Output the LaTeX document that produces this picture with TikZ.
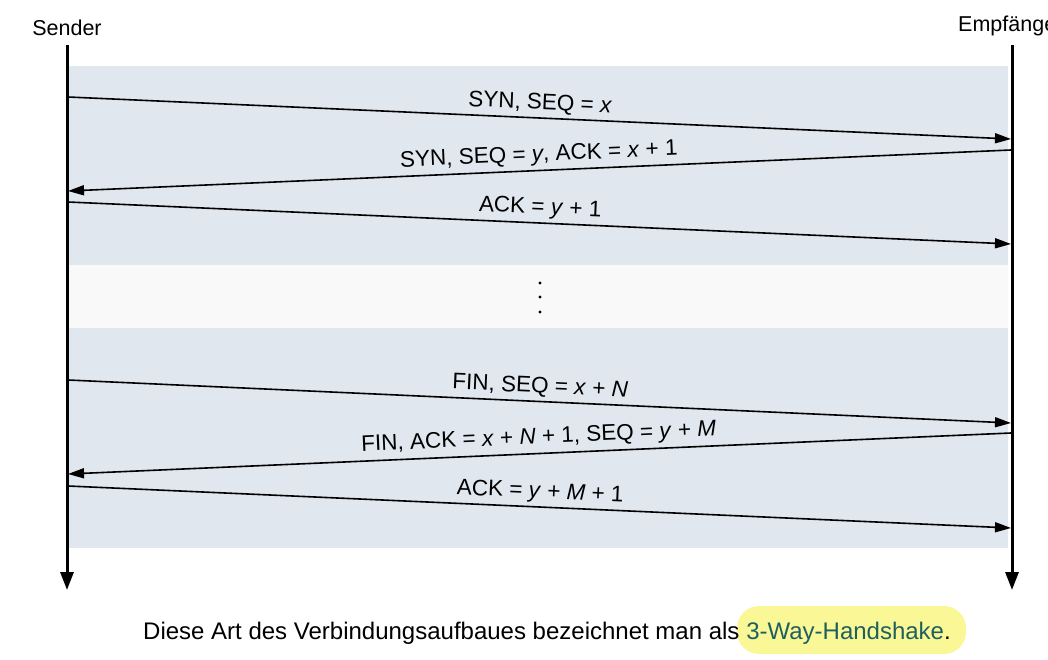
\documentclass[tikz,border=0pt]{standalone}
\usepackage{fontspec}
\setmainfont{Liberation Sans}
\usetikzlibrary{arrows.meta}
\definecolor{band}{RGB}{225,231,239}
\definecolor{gap}{RGB}{249,249,249}
\definecolor{teal}{RGB}{30,95,95}
\definecolor{hl}{RGB}{250,248,150}
\begin{document}
\begin{tikzpicture}[x=1pt,y=-1pt,
  lifeline/.style={line width=3pt,-{Triangle[length=18pt,width=13pt]}},
  msg/.style={line width=1.6pt,-{Triangle[length=16pt,width=10pt]}},
  msglabel/.style={font=\fontsize{22.5}{26}\selectfont,sloped,above,inner sep=3.5pt,midway},
  headlabel/.style={font=\fontsize{21.5}{25}\selectfont,inner sep=0pt}]
\useasboundingbox (0,0) rectangle (1048,660);
% bands
\fill[band] (67,66) rectangle (1008,265);
\fill[gap] (67,265) rectangle (1008,328);
\fill[band] (67,328) rectangle (1008,548);
% headers
\node[headlabel,anchor=base] (sender) at (67,36) {Sender};
\node[headlabel,anchor=base west] (empf) at (958,32) {Empfänger};
% lifelines
\coordinate (stop) at (67,45); \coordinate (send) at (67,590);
\coordinate (rtop) at (1012,45); \coordinate (rend) at (1012,590);
\draw[lifeline] (stop) -- (send);
\draw[lifeline] (rtop) -- (rend);
% message endpoints
\coordinate (a1) at (68,97);  \coordinate (b1) at (1011,139);
\coordinate (a2) at (1011,150); \coordinate (b2) at (68,191);
\coordinate (a3) at (68,202); \coordinate (b3) at (1011,244);
\coordinate (a4) at (68,380); \coordinate (b4) at (1011,423);
\coordinate (a5) at (1011,433); \coordinate (b5) at (68,474);
\coordinate (a6) at (68,486); \coordinate (b6) at (1011,528);
\draw[msg] (a1) -- node[msglabel] (l1) {SYN, SEQ = \textit{x}} (b1);
\draw[msg] (a2) -- (b2);
\path (b2) -- node[msglabel,inner sep=4.5pt] (l2) {SYN, SEQ = \textit{y}, ACK = \textit{x} + 1} (a2);
\draw[msg] (a3) -- node[msglabel] (l3) {ACK = \textit{y} + 1} (b3);
\draw[msg] (a4) -- node[msglabel] (l4) {FIN, SEQ = \textit{x} + \textit{N}} (b4);
\draw[msg] (a5) -- (b5);
\path (b5) -- node[msglabel,inner sep=5pt] (l5) {FIN, ACK = \textit{x} + \textit{N} + 1, SEQ = \textit{y} + \textit{M}} (a5);
\draw[msg] (a6) -- node[msglabel] (l6) {ACK = \textit{y} + \textit{M} + 1} (b6);
% dots
\foreach \yy in {283,297,312}
  \fill (540,\yy) circle[radius=1.7];
% caption
\fill[hl,rounded corners=22pt] (737,606) rectangle (966,654);
\node[font=\fontsize{24}{28}\selectfont,anchor=base west,inner sep=0pt] (cap) at (143,639)
  {Diese Art des Verbindungsaufbaues bezeichnet man als \textcolor{teal}{3-Way-Handshake}.};
\end{tikzpicture}
\end{document}
